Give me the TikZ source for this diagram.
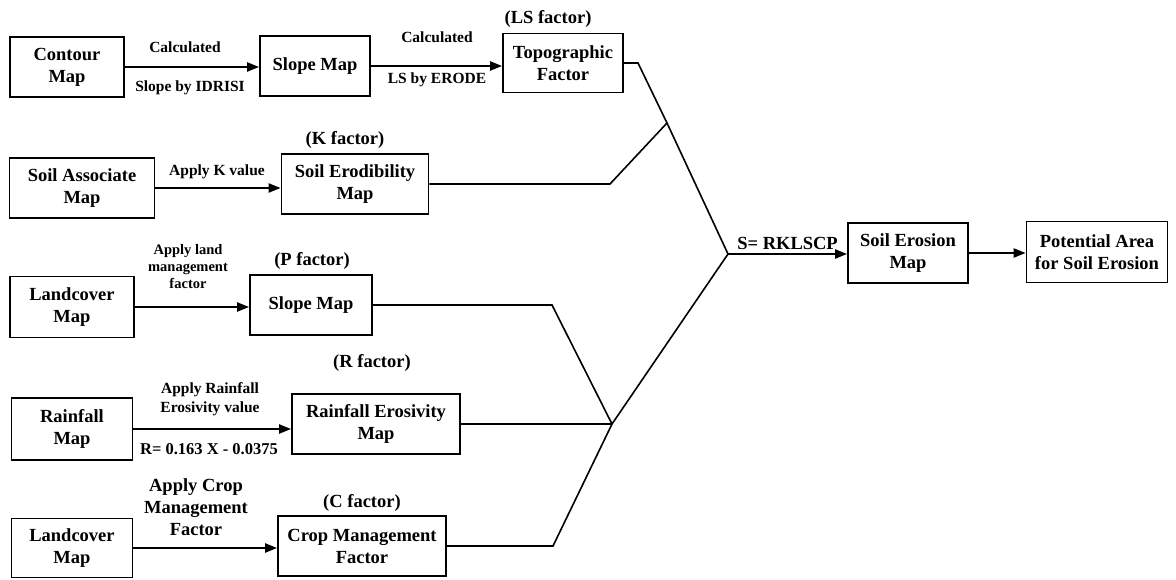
\documentclass[tikz,border=0pt]{standalone}
\usepackage{fontspec}
\setmainfont{Liberation Serif}
\usetikzlibrary{arrows.meta}

\begin{document}
\begin{tikzpicture}[x=1pt, y=-1pt,
  map node/.style={draw, line width=1.8pt, align=center, inner sep=0pt, font=\fontsize{18.5}{22}\selectfont\bfseries},
  label node/.style={align=center, inner sep=0pt, font=\fontsize{15.5}{19}\selectfont\bfseries},
  factor node/.style={align=center, inner sep=0pt, font=\fontsize{18.5}{22}\selectfont\bfseries},
  flow/.style={line width=2.2pt, -{Triangle[length=12pt, width=9pt]}},
  joinline/.style={line width=1.6pt}]
  \useasboundingbox (0,0) rectangle (1176,580);

  % Cartes de départ
  \node[map node, minimum width=114pt, minimum height=60pt] (contour) at (67,67) {Contour\\Map};
  \node[map node, minimum width=145pt, minimum height=60pt] (soilass) at (82,188) {Soil Associate\\Map};
  \node[map node, minimum width=124pt, minimum height=61pt] (land1) at (72,307) {Landcover\\Map};
  \node[map node, minimum width=121pt, minimum height=62pt] (rain) at (72,429) {Rainfall\\Map};
  \node[map node, minimum width=121pt, minimum height=59pt] (land2) at (72,548) {Landcover\\Map};

  % Cartes intermédiaires et facteurs
  \node[map node, minimum width=110pt, minimum height=60pt] (slopeA) at (315,66) {Slope Map};
  \node[map node, minimum width=120pt, minimum height=59pt] (topo) at (563,63) {Topographic\\Factor};
  \node[map node, minimum width=147pt, minimum height=60pt] (erod) at (355,184) {Soil Erodibility\\Map};
  \node[map node, minimum width=122pt, minimum height=60pt] (slopeP) at (311,305) {Slope Map};
  \node[map node, minimum width=168pt, minimum height=60pt] (rainero) at (376,424) {Rainfall Erosivity\\Map};
  \node[map node, minimum width=168pt, minimum height=60pt] (crop) at (362,546) {Crop Management\\Factor};

  % Résultats
  \node[map node, minimum width=120pt, minimum height=60pt] (erosion) at (908,253) {Soil Erosion\\Map};
  \node[map node, minimum width=141pt, minimum height=61pt] (potential) at (1097,252) {Potential Area\\for Soil Erosion};

  % Noms des facteurs
  \node[factor node] (lsf) at (548,19) {(LS factor)};
  \node[factor node] (kf) at (345,140) {(K factor)};
  \node[factor node] (pf) at (312,261) {(P factor)};
  \node[factor node] (rf) at (372,363) {(R factor)};
  \node[factor node] (cf) at (362,503) {(C factor)};

  % Textes des flèches
  \node[label node] (calc1) at (185,47) {Calculated};
  \node[label node] (idrisi) at (190,88) {Slope by IDRISI};
  \node[label node] (calc2) at (437,37) {Calculated};
  \node[label node] (erode) at (437,80) {LS by ERODE};
  \node[label node] (kval) at (217,172) {Apply K value};
  \node[label node, font=\fontsize{14.5}{17}\selectfont\bfseries] (landman) at (188,267) {Apply land\\management\\factor};
  \node[label node] (rainval) at (210,399) {Apply Rainfall\\Erosivity value};
  \node[label node, font=\fontsize{16.5}{19}\selectfont\bfseries] (req) at (209,449) {R= 0.163 X - 0.0375};
  \node[factor node] (cropman) at (196,507) {Apply Crop\\Management\\Factor};

  % Points de jonction
  \coordinate (t1) at (638,63);
  \coordinate (m1) at (667,123);
  \coordinate (e1) at (610,184);
  \coordinate (p1) at (552,305);
  \coordinate (c1) at (553,546);
  \coordinate (K) at (612,424);
  \coordinate (J) at (728,254);

  % Flèches
  \draw[flow] (contour.east) -- (contour.east -| slopeA.west);
  \draw[flow] (slopeA.east) -- (slopeA.east -| topo.west);
  \draw[flow] (soilass.east) -- (soilass.east -| erod.west);
  \draw[flow] (land1.east) -- (land1.east -| slopeP.west);
  \draw[flow] (rain.east) -- (rain.east -| rainero.west);
  \draw[flow] (land2.east) -- (land2.east -| crop.west);

  % Convergence des facteurs
  \draw[joinline] (topo.east) -- (t1) -- (m1) -- (J);
  \draw[joinline] (erod.east) -- (e1) -- (m1);
  \draw[joinline] (slopeP.east) -- (p1) -- (K);
  \draw[joinline] (rainero.east) -- (K);
  \draw[joinline] (crop.east) -- (c1) -- (K);
  \draw[joinline] (K) -- (J);

  \draw[flow] (J) -- node[factor node, above=3pt] (rklscp) {S= RKLSCP} (J -| erosion.west);
  \draw[flow] (erosion.east) -- (erosion.east -| potential.west);
\end{tikzpicture}
\end{document}
